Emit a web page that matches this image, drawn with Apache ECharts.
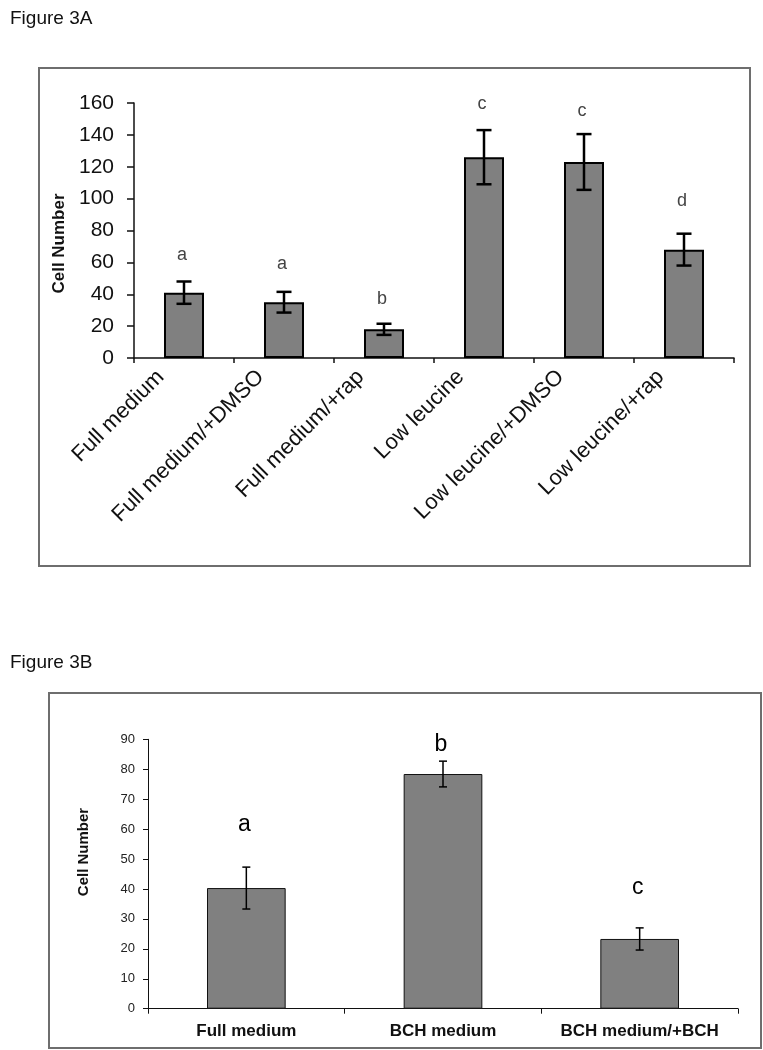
<!DOCTYPE html>
<html>
<head>
<meta charset="utf-8">
<script src="https://cdn.jsdelivr.net/npm/echarts@6/dist/echarts.min.js"></script>
<style>
  html, body { margin: 0; padding: 0; background: #ffffff; }
  #chart { width: 763px; height: 1050px; }
</style>
</head>
<body>
<div id="chart"></div>
<script>
// ---------- data ----------
const categoriesA = ['Full medium', 'Full medium/+DMSO', 'Full medium/+rap', 'Low leucine', 'Low leucine/+DMSO', 'Low leucine/+rap'];
const meansA = [41, 35, 18, 126, 123, 68];
const errorsA = [7, 6.5, 3.5, 17, 17.5, 10];
const lettersA = ['a', 'a', 'b', 'c', 'c', 'd'];
const yTicksA = [0, 20, 40, 60, 80, 100, 120, 140, 160];

const categoriesB = ['Full medium', 'BCH medium', 'BCH medium/+BCH'];
const meansB = [40.3, 78.4, 23.3];
const errorsB = [7, 4.3, 3.7];
const lettersB = ['a', 'b', 'c'];
const yTicksB = [0, 10, 20, 30, 40, 50, 60, 70, 80, 90];

const panelTitles = ['Figure 3A', 'Figure 3B'];
const axisTitle = 'Cell Number';

// ---------- styling ----------
const FONT = "'Liberation Sans', Arial, Helvetica, sans-serif";
const letterGapA = [26, 28, 25, 26, 23, 33];
const letterGapB = [42, 16, 40];

function errorSeries(xIdx, yIdx, means, errors, letters, gaps, opt) {
  return {
    type: 'custom',
    xAxisIndex: xIdx,
    yAxisIndex: yIdx,
    z: 10,
    data: means.map((m, i) => [i, m, errors[i]]),
    renderItem: function (params, api) {
      const i = api.value(0), m = api.value(1), e = api.value(2);
      const top = api.coord([i, m + e]);
      const bot = api.coord([i, m - e]);
      const hw = opt.cap / 2;
      const ls = { stroke: '#000', lineWidth: opt.lw };
      return {
        type: 'group',
        children: [
          { type: 'line', shape: { x1: top[0], y1: top[1], x2: bot[0], y2: bot[1] }, style: ls },
          { type: 'line', shape: { x1: top[0] - hw, y1: top[1], x2: top[0] + hw, y2: top[1] }, style: ls },
          { type: 'line', shape: { x1: bot[0] - hw, y1: bot[1], x2: bot[0] + hw, y2: bot[1] }, style: ls },
          { type: 'text', style: { text: letters[params.dataIndex], x: top[0] - 2, y: top[1] - gaps[params.dataIndex],
              align: 'center', verticalAlign: 'middle', font: opt.font, fill: opt.color } }
        ]
      };
    }
  };
}

const chart = echarts.init(document.getElementById('chart'), null, { renderer: 'canvas' });

const option = {
  backgroundColor: '#ffffff',
  animation: false,
  title: [
    { text: panelTitles[0], left: 5, top: 4, textStyle: { fontFamily: FONT, fontSize: 19, fontWeight: 'normal', color: '#111' } },
    { text: panelTitles[1], left: 5, top: 648, textStyle: { fontFamily: FONT, fontSize: 19, fontWeight: 'normal', color: '#111' } }
  ],
  graphic: [
    { type: 'rect', shape: { x: 39, y: 68, width: 711, height: 498 }, style: { fill: 'none', stroke: '#6e6e6e', lineWidth: 2 } },
    { type: 'rect', shape: { x: 49, y: 693, width: 712, height: 355 }, style: { fill: 'none', stroke: '#6e6e6e', lineWidth: 2 } }
  ],
  grid: [
    { left: 134, top: 103, width: 600, height: 255 },
    { left: 148, top: 739.3, width: 590, height: 269.4 }
  ],
  xAxis: [
    {
      type: 'category', gridIndex: 0, data: categoriesA,
      axisLine: { lineStyle: { color: '#111', width: 1.5 } },
      axisTick: { show: true, length: 5, lineStyle: { color: '#111', width: 1.5 } },
      axisLabel: { rotate: 45, margin: 39, interval: 0, verticalAlign: 'bottom', padding: [0, 0, 22, 0],
        fontFamily: FONT, fontSize: 22, color: '#111' }
    },
    {
      type: 'category', gridIndex: 1, data: categoriesB,
      axisLine: { lineStyle: { color: '#111', width: 1 } },
      axisTick: { show: true, length: 5, lineStyle: { color: '#111', width: 1 } },
      axisLabel: { margin: 14, interval: 0, fontFamily: FONT, fontSize: 17, fontWeight: 'bold', color: '#111' }
    }
  ],
  yAxis: [
    {
      type: 'value', gridIndex: 0,
      min: yTicksA[0], max: yTicksA[yTicksA.length - 1], interval: yTicksA[1] - yTicksA[0],
      name: axisTitle, nameLocation: 'middle', nameGap: 60,
      nameTextStyle: { fontFamily: FONT, fontSize: 17, fontWeight: 'bold', color: '#111', padding: [0, 26, 0, 0] },
      splitLine: { show: false },
      axisLine: { show: true, lineStyle: { color: '#111', width: 1.5 } },
      axisTick: { show: true, length: 7, lineStyle: { color: '#111', width: 1.5 } },
      axisLabel: { margin: 20, fontFamily: FONT, fontSize: 21, color: '#111' }
    },
    {
      type: 'value', gridIndex: 1,
      min: yTicksB[0], max: yTicksB[yTicksB.length - 1], interval: yTicksB[1] - yTicksB[0],
      name: axisTitle, nameLocation: 'middle', nameGap: 57,
      nameTextStyle: { fontFamily: FONT, fontSize: 15, fontWeight: 'bold', color: '#111', padding: [0, 0, 0, 44] },
      splitLine: { show: false },
      axisLine: { show: true, lineStyle: { color: '#111', width: 1 } },
      axisTick: { show: true, length: 5, lineStyle: { color: '#111', width: 1 } },
      axisLabel: { margin: 13, fontFamily: FONT, fontSize: 13, color: '#222' }
    }
  ],
  series: [
    {
      type: 'bar', xAxisIndex: 0, yAxisIndex: 0, data: meansA, barWidth: '40%',
      itemStyle: { color: '#808080', borderColor: '#000', borderWidth: 2 }
    },
    errorSeries(0, 0, meansA, errorsA, lettersA, letterGapA, { cap: 15, lw: 2.5, font: '18px ' + FONT, color: '#444' }),
    {
      type: 'bar', xAxisIndex: 1, yAxisIndex: 1, data: meansB, barWidth: '40%',
      itemStyle: { color: '#808080', borderColor: '#111', borderWidth: 1 }
    },
    errorSeries(1, 1, meansB, errorsB, lettersB, letterGapB, { cap: 8, lw: 1.5, font: '23px ' + FONT, color: '#000' })
  ]
};

chart.setOption(option);
</script>
</body>
</html>
